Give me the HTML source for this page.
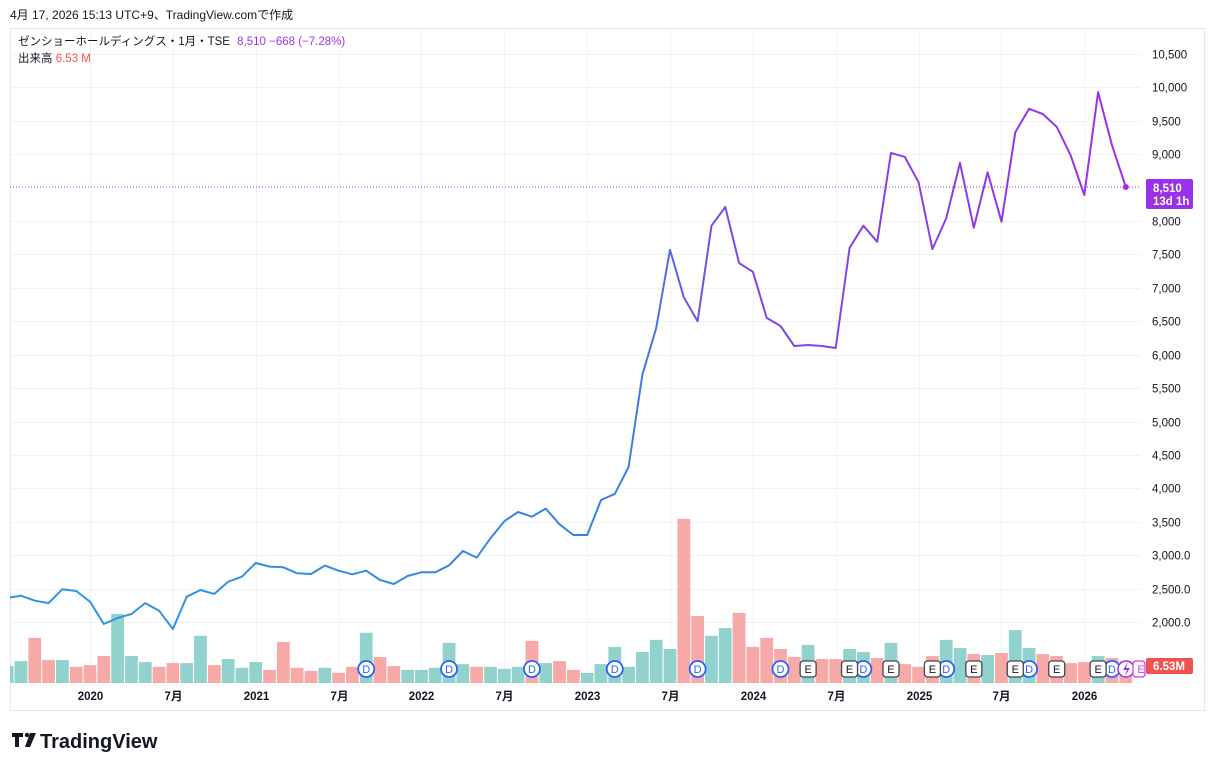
<!DOCTYPE html>
<html><head><meta charset="utf-8">
<style>
body{margin:0;background:#fff;width:1214px;height:771px;overflow:hidden;font-family:"Liberation Sans","Noto Sans CJK JP",sans-serif;}
svg{display:block}
</style></head>
<body>
<svg id="chart" width="1214" height="771" xmlns="http://www.w3.org/2000/svg" font-family="Liberation Sans, Noto Sans CJK JP, sans-serif">
<defs>
<linearGradient id="lineGrad" gradientUnits="userSpaceOnUse" x1="10" y1="0" x2="1140" y2="0">
<stop offset="0" stop-color="#2a9be0"/>
<stop offset="0.55" stop-color="#3b7fe6"/>
<stop offset="0.62" stop-color="#7a4be8"/>
<stop offset="1" stop-color="#9b30ea"/>
</linearGradient>
<clipPath id="plotClip"><rect x="10" y="30" width="1130" height="654"/></clipPath>
</defs>
<text x="10" y="19" font-size="12" fill="#131722">4月 17, 2026 15:13 UTC+9、TradingView.comで作成</text>
<rect x="10.5" y="28.5" width="1194" height="682" fill="none" stroke="#e6e8ee"/>
<g id="grid"></g>
<g id="vol" clip-path="url(#plotClip)"></g>
<g id="line" clip-path="url(#plotClip)"></g>
<g id="markers"></g>
<g id="yaxis"></g>
<g id="xaxis"></g>
<text x="18" y="45" font-size="11.5" fill="#131722">ゼンショーホールディングス・1月・TSE <tspan fill="#a034e8" dx="4">8,510  −668 (−7.28%)</tspan></text>
<text x="18" y="62" font-size="11.5" fill="#131722">出来高 <tspan fill="#ef5350">6.53 M</tspan></text>
<g>
<path d="M12 733h11v4h-4v10h-4v-10h-3z" fill="#131722"/>
<circle cx="27" cy="735" r="2.2" fill="#131722"/>
<path d="M30 733h6l-6 14h-5z" fill="#131722"/>
<text x="40" y="748" font-size="20" font-weight="bold" fill="#131722">TradingView</text>
</g>
</svg>
<script>
const months = ["2019-07","2019-08","2019-09","2019-10","2019-11","2019-12","2020-01","2020-02","2020-03","2020-04","2020-05","2020-06","2020-07","2020-08","2020-09","2020-10","2020-11","2020-12","2021-01","2021-02","2021-03","2021-04","2021-05","2021-06","2021-07","2021-08","2021-09","2021-10","2021-11","2021-12","2022-01","2022-02","2022-03","2022-04","2022-05","2022-06","2022-07","2022-08","2022-09","2022-10","2022-11","2022-12","2023-01","2023-02","2023-03","2023-04","2023-05","2023-06","2023-07","2023-08","2023-09","2023-10","2023-11","2023-12","2024-01","2024-02","2024-03","2024-04","2024-05","2024-06","2024-07","2024-08","2024-09","2024-10","2024-11","2024-12","2025-01","2025-02","2025-03","2025-04","2025-05","2025-06","2025-07","2025-08","2025-09","2025-10","2025-11","2025-12","2026-01","2026-02","2026-03","2026-04"];
const closes = [2360,2393,2318,2283,2490,2463,2303,1970,2060,2120,2283,2168,1895,2378,2478,2420,2603,2678,2883,2828,2818,2728,2718,2843,2768,2713,2768,2628,2568,2688,2743,2743,2848,3062,2963,3253,3508,3646,3576,3696,3462,3302,3302,3826,3916,4320,5700,6400,7570,6860,6500,7930,8210,7370,7240,6550,6430,6130,6145,6130,6100,7600,7930,7690,9020,8960,8580,7580,8040,8870,7900,8730,7990,9330,9680,9600,9410,8990,8390,9930,9140,8510];
const volumes = [5.0,6.5,13.4,6.8,6.8,4.8,5.3,8.0,20.5,8.0,6.2,4.8,5.9,5.9,14.0,5.3,7.1,4.5,6.2,3.9,12.2,4.5,3.6,4.5,3.0,4.8,14.9,7.7,5.0,3.9,3.9,4.5,11.9,5.6,4.8,4.8,4.2,4.8,12.5,5.9,6.5,3.9,3.0,5.6,10.7,4.8,9.2,12.8,10.1,48.7,19.9,14.0,16.3,20.8,10.7,13.4,10.1,7.7,11.3,7.1,7.1,10.1,9.2,7.4,11.9,5.6,4.8,8.0,12.8,10.4,8.6,8.3,8.9,15.7,10.4,8.6,8.0,5.9,6.2,8.0,7.4,6.53];
// candle direction per month (1 = up/green, 0 = down/red)
const upFlags = [1,1,0,0,1,0,0,0,1,1,1,0,0,1,1,0,1,1,1,0,0,0,0,1,0,0,1,0,0,
1,1,1,1,1,0,1,1,1,0,1,0,0,1,1,1,1,1,1,1,0,0,1,1,0,0,0,0,
0,1,0,0,1,1,0,1,0,0,0,1,1,0,1,0,1,1,0,0,0,0,1,0,0];
const priceTicks = [10500,10000,9500,9000,8000,7500,7000,6500,6000,5500,5000,4500,4000,3500,3000,2500,2000];
const priceTickLabels = ["10,500","10,000","9,500","9,000","8,000","7,500","7,000","6,500","6,000","5,500","5,000","4,500","4,000","3,500","3,000.0","2,500.0","2,000.0"];
const timeTicks = ["2020-01","2020-07","2021-01","2021-07","2022-01","2022-07","2023-01","2023-07","2024-01","2024-07","2025-01","2025-07","2026-01"];
const timeTickLabels = ["2020","7月","2021","7月","2022","7月","2023","7月","2024","7月","2025","7月","2026"];
const dividendMonths = ["2021-09","2022-03","2022-09","2023-03","2023-09","2024-03","2024-09","2025-03","2025-09","2026-03"];
const earningsMonths = ["2024-05","2024-08","2024-11","2025-02","2025-05","2025-08","2025-11","2026-02"];

const NS="http://www.w3.org/2000/svg";
function mk(tag, attrs, parent){const e=document.createElementNS(NS,tag);for(const k in attrs)e.setAttribute(k,attrs[k]);parent.appendChild(e);return e;}
function mIndex(m){const [y,mo]=m.split("-").map(Number);return (y-2020)*12+(mo-1);}
const xOf = m => 90 + mIndex(m)*13.81;
const yOf = p => 54 + (10500-p)*0.06682;
const volBase = 683, volScale = 3.37;
const hOf = v => v*volScale;

const grid=document.getElementById('grid'), vol=document.getElementById('vol'), line=document.getElementById('line');
const yaxis=document.getElementById('yaxis'), xaxis=document.getElementById('xaxis'), markers=document.getElementById('markers');

priceTicks.forEach((p,i)=>{
  const y=Math.round(yOf(p))+0.5;
  const g=mk('line',{x1:10,x2:1140,y1:y,y2:y,stroke:'#f0f2f6'},grid);
  
  
  const t=mk('text',{x:1152,y:y+4,'font-size':11.5,fill:'#131722'},yaxis);
  t.textContent=priceTickLabels[i];
  
  
});
timeTicks.forEach((m,i)=>{
  const x=Math.round(xOf(m))+0.5;
  const g=mk('line',{x1:x,x2:x,y1:30,y2:684,stroke:'#f0f2f6'},grid);
  
  
  const t=mk('text',{x:x,y:700,'font-size':11.5,'font-weight':'bold','text-anchor':'middle',fill:'#131722'},xaxis);
  t.textContent=timeTickLabels[i];
  
  
});

months.forEach((m,i)=>{
  const up = upFlags[i]===1;
  const h=hOf(volumes[i]);
  const x=xOf(m);
  const r=mk('rect',{x:x-6.4,y:volBase-h,width:12.8,height:h,fill:up?'#92d2cc':'#f7a9a7'},vol);
  
  
});

const pts=months.map((m,i)=>xOf(m).toFixed(1)+','+yOf(closes[i]).toFixed(1)).join(' ');
const pl=mk('polyline',{points:pts,fill:'none',stroke:'url(#lineGrad)','stroke-width':2,'stroke-linejoin':'round'},line);



const last=closes[closes.length-1], ly=yOf(last), lx=xOf(months[months.length-1]);
const dl=mk('line',{x1:10,x2:1146,y1:ly,y2:ly,stroke:'#9b30ea','stroke-dasharray':'1 2'},line);


const dot=mk('circle',{cx:lx,cy:ly,r:3,fill:'#9b30ea'},markers);



dividendMonths.forEach(m=>{
  const x=xOf(m);
  const c=mk('circle',{cx:x,cy:669,r:8,fill:'#fff',stroke:'#2962ff','stroke-width':1.8},markers);
  
  
  const t=mk('text',{x:x,y:673,'font-size':11,'text-anchor':'middle',fill:'#2962ff'},markers);
  t.textContent='D';
});
earningsMonths.forEach(m=>{
  const x=xOf(m);
  const r=mk('rect',{x:x-8,y:661,width:16,height:16,rx:3,fill:'#fff',stroke:'#434651','stroke-width':1.3},markers);
  
  
  const t=mk('text',{x:x,y:673,'font-size':11,'text-anchor':'middle',fill:'#131722'},markers);
  t.textContent='E';
});
const spc=mk('circle',{cx:1126,cy:669,r:8,fill:'#fff',stroke:'#9b30ea','stroke-width':1.5},markers);


const sp=mk('path',{d:'M1128 662l-5 8h4l-2 6 5-8h-4z',fill:'#9b30ea'},markers);
const fe=mk('rect',{x:1133,y:661,width:12,height:16,rx:3,fill:'#fff',stroke:'#d040f0','stroke-width':1.3},markers);


const fet=mk('text',{x:1141,y:673,'font-size':11,'text-anchor':'middle',fill:'#d040f0'},markers);
fet.textContent='E';

const pb=mk('rect',{x:1146,y:ly-8,width:47,height:30,rx:2,fill:'#9b30ea'},yaxis);


const pt1=mk('text',{x:1153,y:ly+5,'font-size':11.5,'font-weight':'bold',fill:'#fff'},yaxis);
pt1.textContent='8,510';
const pt2=mk('text',{x:1153,y:ly+18,'font-size':11.5,'font-weight':'bold',fill:'#fff'},yaxis);
pt2.textContent='13d 1h';
const vb=mk('rect',{x:1146,y:658,width:47,height:16,rx:2,fill:'#ef5350'},yaxis);


const vt=mk('text',{x:1153,y:670,'font-size':11.5,'font-weight':'bold',fill:'#fff'},yaxis);
vt.textContent='6.53M';
</script>
</body></html>
